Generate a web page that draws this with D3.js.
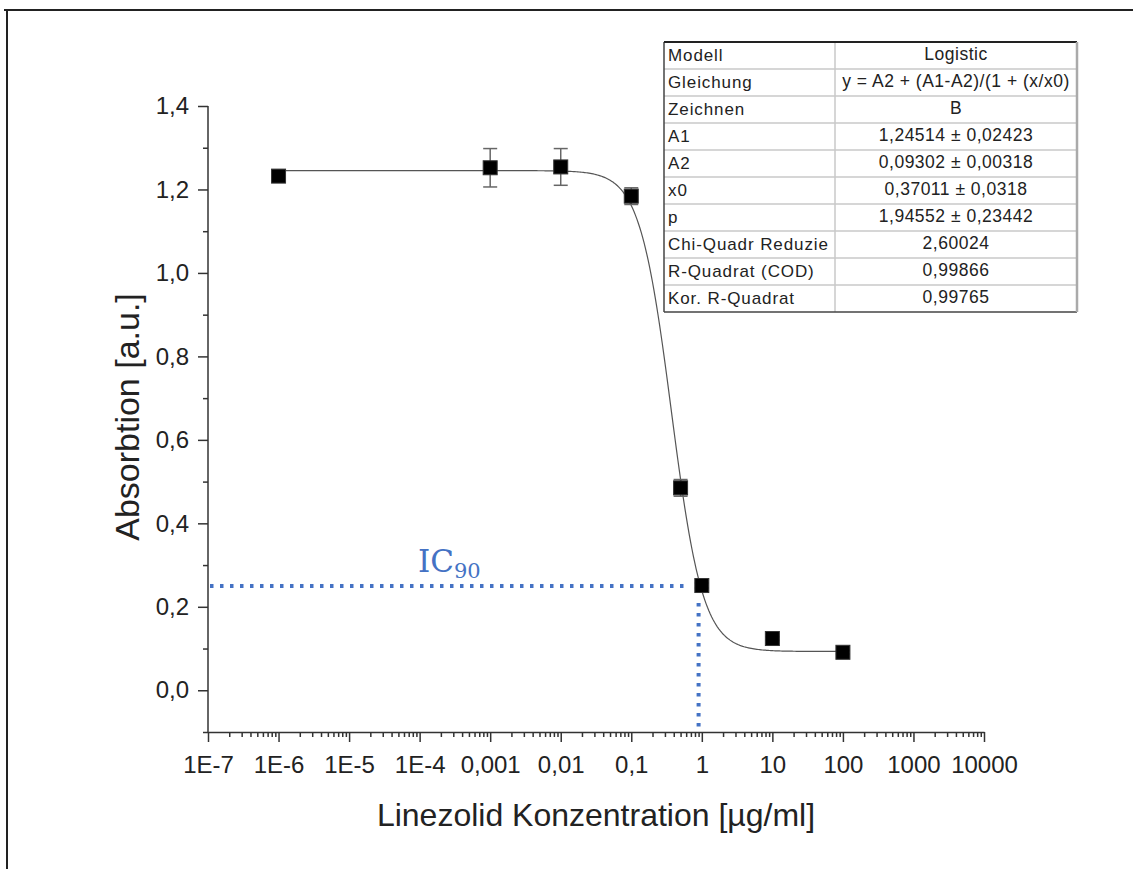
<!DOCTYPE html>
<html>
<head>
<meta charset="utf-8">
<script src="https://cdn.jsdelivr.net/npm/d3@7"></script>
<style>
  html, body { margin: 0; padding: 0; background: #fff; }
  svg { display: block; }
</style>
</head>
<body>
<svg id="chart" width="1133" height="869"></svg>
<script>
// Measured concentrations (µg/ml) and absorbance
const concentrations = [1e-6, 1e-3, 1e-2, 0.1, 0.5, 1, 10, 100];
const absorbance     = [1.232, 1.252, 1.254, 1.184, 0.485, 0.251, 0.124, 0.091];
const errors         = [0.012, 0.046, 0.044, 0.02, 0.02, 0.006, 0.004, 0.004];

// Fit parameters (Logistic, Origin)
const fitA1 = 1.24514, fitA2 = 0.09302, fitX0 = 0.37011, fitP = 1.94552;

// IC90 read-off
const ic90Absorbance = 0.25;
const ic90Conc = 0.9;

const xTickValues = [1e-7, 1e-6, 1e-5, 1e-4, 1e-3, 1e-2, 1e-1, 1, 10, 100, 1000, 10000];
const xTickLabels = ["1E-7", "1E-6", "1E-5", "1E-4", "0,001", "0,01", "0,1", "1", "10", "100", "1000", "10000"];
const yTickValues = [0, 0.2, 0.4, 0.6, 0.8, 1.0, 1.2, 1.4];
const yTickLabels = ["0,0", "0,2", "0,4", "0,6", "0,8", "1,0", "1,2", "1,4"];

const tableRows = [
  ["Modell", "Logistic"],
  ["Gleichung", "y = A2 + (A1-A2)/(1 + (x/x0)"],
  ["Zeichnen", "B"],
  ["A1", "1,24514 ± 0,02423"],
  ["A2", "0,09302 ± 0,00318"],
  ["x0", "0,37011 ± 0,0318"],
  ["p", "1,94552 ± 0,23442"],
  ["Chi-Quadr Reduzie", "2,60024"],
  ["R-Quadrat (COD)", "0,99866"],
  ["Kor. R-Quadrat", "0,99765"]
];

const sans = "'Liberation Sans', Arial, sans-serif";
const serif = "'DejaVu Serif', 'Liberation Serif', serif";
const textColor = "#222";

const svg = d3.select("#chart");

// outer frame (top and left edges)
svg.append("line").attr("x1", 4).attr("x2", 1133).attr("y1", 10).attr("y2", 10)
  .attr("stroke", "#222").attr("stroke-width", 2);
svg.append("line").attr("x1", 7).attr("x2", 7).attr("y1", 10).attr("y2", 869)
  .attr("stroke", "#222").attr("stroke-width", 2);

const x = d3.scaleLog().domain([1e-7, 1e4]).range([208, 984]);
const y = d3.scaleLinear().domain([-0.1, 1.4]).range([732, 106]);

const axisColor = "#333";

// x axis: major decades + minor ticks
const minorX = [];
for (let e = -7; e < 4; e++) for (let m = 2; m <= 9; m++) minorX.push(m * Math.pow(10, e));

const gx = svg.append("g").attr("transform", `translate(0,${y.range()[0]})`);
gx.call(d3.axisBottom(x).tickValues(minorX).tickSize(5).tickFormat(""));
gx.call(g => g.select(".domain").remove());
const gx2 = svg.append("g").attr("transform", `translate(0,${y.range()[0]})`);
gx2.call(d3.axisBottom(x).tickValues(xTickValues).tickSize(10).tickSizeOuter(0)
  .tickFormat((d, i) => xTickLabels[i]));
[gx, gx2].forEach(g => {
  g.selectAll("line").attr("stroke", axisColor).attr("stroke-width", 1.5);
  g.selectAll("path").attr("stroke", axisColor).attr("stroke-width", 1.5);
  g.selectAll("text").style("font-size", "24px").style("fill", textColor)
    .style("font-family", sans).attr("dy", "1.15em");
});

// y axis
const minorY = [-0.1, 0.1, 0.3, 0.5, 0.7, 0.9, 1.1, 1.3];
const gy = svg.append("g").attr("transform", `translate(${x.range()[0]},0)`);
gy.call(d3.axisLeft(y).tickValues(minorY).tickSize(5).tickFormat(""));
gy.call(g => g.select(".domain").remove());
const gy2 = svg.append("g").attr("transform", `translate(${x.range()[0]},0)`);
gy2.call(d3.axisLeft(y).tickValues(yTickValues).tickSize(10).tickSizeOuter(0)
  .tickFormat((d, i) => yTickLabels[i]));
[gy, gy2].forEach(g => {
  g.selectAll("line").attr("stroke", axisColor).attr("stroke-width", 1.5);
  g.selectAll("path").attr("stroke", axisColor).attr("stroke-width", 1.5);
  g.selectAll("text").style("font-size", "24px").style("fill", textColor)
    .style("font-family", sans).attr("x", -19);
});
gy2.select(".domain").attr("d", `M0,${y(1.4)}V${y(-0.1)}`);

// axis titles
svg.append("text")
  .attr("transform", `translate(139,${(y(1.4) + y(-0.1)) / 2 - 2}) rotate(-90)`)
  .attr("text-anchor", "middle")
  .style("font-family", sans).style("font-size", "34px").style("fill", textColor)
  .text("Absorbtion [a.u.]");
svg.append("text")
  .attr("x", 596).attr("y", 826)
  .attr("text-anchor", "middle")
  .style("font-family", sans).style("font-size", "32px").style("fill", textColor)
  .text("Linezolid Konzentration [µg/ml]");

// IC90 guide lines
const blue = "#4472C4";
svg.append("line")
  .attr("x1", x.range()[0] + 2).attr("x2", x(ic90Conc) - 10)
  .attr("y1", y(ic90Absorbance)).attr("y2", y(ic90Absorbance))
  .attr("stroke", blue).attr("stroke-width", 4).attr("stroke-dasharray", "3.5,6.5");
svg.append("line")
  .attr("x1", x(ic90Conc)).attr("x2", x(ic90Conc))
  .attr("y1", y(ic90Absorbance) + 17).attr("y2", y(-0.1))
  .attr("stroke", blue).attr("stroke-width", 4).attr("stroke-dasharray", "3.5,6.5");

const ic = svg.append("text").attr("x", 418).attr("y", 572)
  .style("font-family", serif).style("font-size", "31px").style("fill", blue);
ic.append("tspan").text("IC");
ic.append("tspan").style("font-size", "21px").attr("dy", 6).text("90");

// fitted logistic curve
const logistic = c => fitA2 + (fitA1 - fitA2) / (1 + Math.pow(c / fitX0, fitP));
const curveX = d3.range(-6, 2.0001, 0.02).map(e => Math.pow(10, e));
svg.append("path")
  .datum(curveX)
  .attr("fill", "none").attr("stroke", "#555").attr("stroke-width", 1.2)
  .attr("d", d3.line().x(c => x(c)).y(c => y(logistic(c))));

// error bars
const pts = concentrations.map((c, i) => ({ c, v: absorbance[i], e: errors[i] }));
const eb = svg.append("g").attr("stroke", "#666").attr("stroke-width", 1.5);
pts.forEach(d => {
  const cx = x(d.c);
  eb.append("line").attr("x1", cx).attr("x2", cx).attr("y1", y(d.v + d.e)).attr("y2", y(d.v - d.e));
  eb.append("line").attr("x1", cx - 7).attr("x2", cx + 7).attr("y1", y(d.v + d.e)).attr("y2", y(d.v + d.e));
  eb.append("line").attr("x1", cx - 7).attr("x2", cx + 7).attr("y1", y(d.v - d.e)).attr("y2", y(d.v - d.e));
});

// markers
const ms = 14;
svg.append("g").selectAll("rect").data(pts).join("rect")
  .attr("x", d => x(d.c) - ms / 2).attr("y", d => y(d.v) - ms / 2)
  .attr("width", ms).attr("height", ms)
  .attr("fill", "#000").attr("stroke", "#333").attr("stroke-width", 1);

// parameter table
const tx = 664, ty = 42, colW = [171, 242], rowH = 27;
const tw = colW[0] + colW[1], th = rowH * tableRows.length;
const tg = svg.append("g");
tg.append("rect").attr("x", tx).attr("y", ty).attr("width", tw).attr("height", th).attr("fill", "#fff");
tableRows.forEach((r, i) => {
  const ry = ty + i * rowH;
  if (i > 0) tg.append("line").attr("x1", tx).attr("x2", tx + tw).attr("y1", ry).attr("y2", ry)
    .attr("stroke", "#c8c8c8").attr("stroke-width", 1.5);
  tg.append("text").attr("x", tx + 4).attr("y", ry + 19)
    .style("font-family", sans).style("font-size", "17px").style("fill", textColor)
    .style("letter-spacing", "0.9px").text(r[0]);
  tg.append("text").attr("x", tx + colW[0] + colW[1] / 2).attr("y", ry + 18)
    .style("font-family", sans).style("font-size", "17.5px").style("fill", textColor)
    .style("letter-spacing", "0.5px")
    .attr("text-anchor", "middle").text(r[1]);
});
tg.append("line").attr("x1", tx + colW[0]).attr("x2", tx + colW[0]).attr("y1", ty).attr("y2", ty + th)
  .attr("stroke", "#c8c8c8").attr("stroke-width", 1.5);
tg.append("line").attr("x1", tx).attr("x2", tx).attr("y1", ty).attr("y2", ty + th)
  .attr("stroke", "#444").attr("stroke-width", 1.5);
tg.append("line").attr("x1", tx).attr("x2", tx + tw).attr("y1", ty + th).attr("y2", ty + th)
  .attr("stroke", "#444").attr("stroke-width", 1.5);
tg.append("line").attr("x1", tx).attr("x2", tx + tw).attr("y1", ty).attr("y2", ty)
  .attr("stroke", "#222").attr("stroke-width", 2);
tg.append("line").attr("x1", tx + tw).attr("x2", tx + tw).attr("y1", ty).attr("y2", ty + th)
  .attr("stroke", "#aaa").attr("stroke-width", 2.5);
</script>
</body>
</html>
